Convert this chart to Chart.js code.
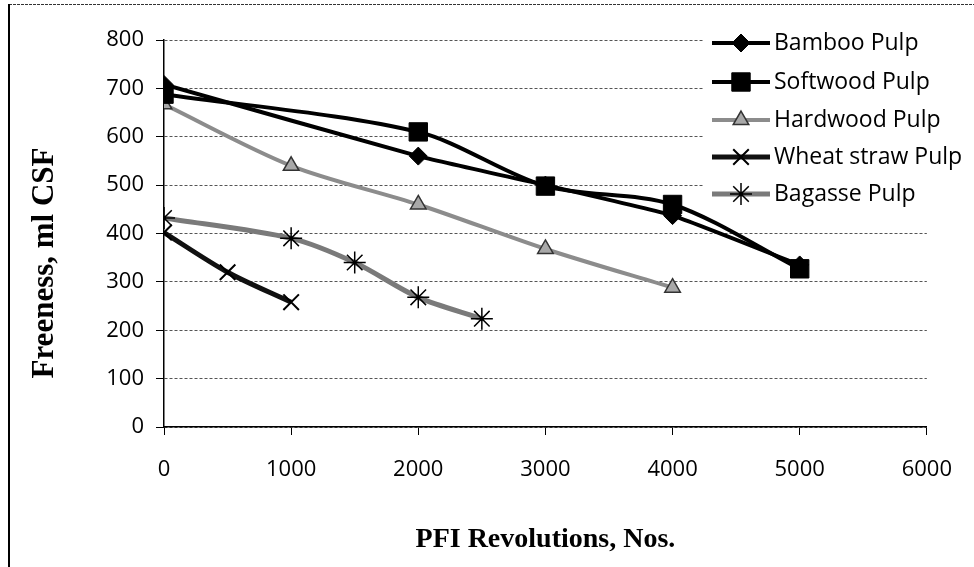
<!DOCTYPE html>
<html>
<head>
<meta charset="utf-8">
<script src="https://cdn.jsdelivr.net/npm/chart.js@4/dist/chart.umd.min.js"></script>
<style>
    html, body { margin: 0; padding: 0; background: #fff; }
    #wrap { width: 974px; height: 567px; }
</style>
</head>
<body>
<div id="wrap"><canvas id="freeness-chart" width="974" height="567"></canvas></div>
<script>
// PFI revolutions (x) and freeness in ml CSF (y)
const seriesNames = ['Bamboo Pulp', 'Softwood Pulp', 'Hardwood Pulp', 'Wheat straw Pulp', 'Bagasse Pulp'];

const bambooRevs = [0, 2000, 3000, 4000, 5000];
const bambooFreeness = [708, 560, 500, 437, 335];

const softwoodRevs = [0, 2000, 3000, 4000, 5000];
const softwoodFreeness = [688, 610, 498, 460, 327];

const hardwoodRevs = [0, 1000, 2000, 3000, 4000];
const hardwoodFreeness = [667, 540, 460, 368, 288];

const wheatRevs = [0, 500, 1000];
const wheatFreeness = [402, 320, 258];

const bagasseRevs = [0, 1000, 1500, 2000, 2500];
const bagasseFreeness = [432, 390, 340, 268, 224];

const yTicks = [0, 100, 200, 300, 400, 500, 600, 700, 800];
const xTicks = [0, 1000, 2000, 3000, 4000, 5000, 6000];

const xTitle = 'PFI Revolutions, Nos.';
const yTitle = 'Freeness, ml CSF';


function toPoints(xs, ys) {
    return xs.map((x, i) => ({ x: x, y: ys[i] }));
}


function makeDataset(label, xs, ys, look) {
    return Object.assign({
        label: label,
        data: toPoints(xs, ys),
        tension: 0.3,
        fill: false
    }, look);
}


const legendPlugin = {
    id: 'sideLegend',
    afterDraw(chart) {
        const ctx = chart.ctx;
        const rows = [43, 82, 120, 157, 194];
        ctx.save();
        // legend box is opaque in the original, it hides the gridlines behind it
        ctx.fillStyle = '#fff';
        ctx.fillRect(703, 22, 269, 190);
        chart.data.datasets.forEach((ds, i) => {
            const y = rows[i];
            ctx.strokeStyle = ds.borderColor;
            ctx.lineWidth = ds.borderWidth;
            ctx.beginPath();
            ctx.moveTo(712, y);
            ctx.lineTo(770, y);
            ctx.stroke();
            ctx.fillStyle = ds.pointBackgroundColor;
            ctx.strokeStyle = ds.pointBorderColor;
            ctx.lineWidth = ds.pointBorderWidth;
            Chart.helpers.drawPoint(ctx, {
                pointStyle: ds.pointStyle,
                radius: ds.pointRadius,
                rotation: 0,
                borderWidth: ds.pointBorderWidth
            }, 741, y);
            ctx.fillStyle = '#000';
            ctx.font = '23px "Open Sans", sans-serif';
            ctx.textBaseline = 'middle';
            ctx.textAlign = 'left';
            ctx.fillText(ds.label, 774, y);
        });
        ctx.restore();
    }
};


const framePlugin = {
    id: 'frame',
    beforeDraw(chart) {
        const ctx = chart.ctx;
        ctx.save();
        ctx.fillStyle = '#fff';
        ctx.fillRect(0, 0, chart.width, chart.height);
        ctx.strokeStyle = '#333';
        ctx.lineWidth = 1;
        ctx.setLineDash([3, 1]);
        ctx.beginPath();
        ctx.moveTo(9, 4.5);
        ctx.lineTo(974, 4.5);
        ctx.stroke();
        ctx.setLineDash([]);
        ctx.strokeStyle = '#000';
        ctx.lineWidth = 2;
        ctx.beginPath();
        ctx.moveTo(9, 4);
        ctx.lineTo(9, 567);
        ctx.stroke();
        ctx.restore();
    },
    afterDraw(chart) {
        // y title sits lower than the plot centre in the original
        const ctx = chart.ctx;
        ctx.save();
        ctx.translate(45, 263);
        ctx.rotate(-Math.PI / 2);
        ctx.fillStyle = '#000';
        ctx.font = 'bold 31px "Liberation Serif", "Times New Roman", serif';
        ctx.textAlign = 'center';
        ctx.textBaseline = 'middle';
        ctx.fillText(yTitle, 0, 0);
        ctx.restore();
    }
};


function initChart() {
    const ctx = document.getElementById('freeness-chart').getContext('2d');
    const tickFont = { family: '"Open Sans", sans-serif', size: 22 };
    return new Chart(ctx, {
        type: 'line',
        data: {
            datasets: [
                makeDataset(seriesNames[0], bambooRevs, bambooFreeness, {
                    borderColor: '#000', borderWidth: 4,
                    pointStyle: 'rectRot', pointRadius: 9,
                    pointBackgroundColor: '#000', pointBorderColor: '#000', pointBorderWidth: 1,
                    tension: 0.15
                }),
                makeDataset(seriesNames[1], softwoodRevs, softwoodFreeness, {
                    borderColor: '#000', borderWidth: 4,
                    pointStyle: 'rect', pointRadius: 13,
                    pointBackgroundColor: '#000', pointBorderColor: '#000', pointBorderWidth: 1
                }),
                makeDataset(seriesNames[2], hardwoodRevs, hardwoodFreeness, {
                    borderColor: '#8c8c8c', borderWidth: 4,
                    pointStyle: 'triangle', pointRadius: 9,
                    pointBackgroundColor: '#a8a8a8', pointBorderColor: '#333', pointBorderWidth: 1.5
                }),
                makeDataset(seriesNames[3], wheatRevs, wheatFreeness, {
                    borderColor: '#111', borderWidth: 5,
                    pointStyle: 'crossRot', pointRadius: 11,
                    pointBackgroundColor: '#000', pointBorderColor: '#000', pointBorderWidth: 2
                }),
                makeDataset(seriesNames[4], bagasseRevs, bagasseFreeness, {
                    borderColor: '#7a7a7a', borderWidth: 5,
                    pointStyle: 'star', pointRadius: 11,
                    pointBackgroundColor: '#000', pointBorderColor: '#000', pointBorderWidth: 1.5
                })
            ]
        },
        options: {
            responsive: false,
            animation: false,
            devicePixelRatio: 1,
            layout: {
                padding: { left: 10, top: 40, right: 47, bottom: 0 }
            },
            scales: {
                x: {
                    type: 'linear',
                    min: 0,
                    max: 6000,
                    afterBuildTicks: (scale) => {
                        scale.ticks = xTicks.map(v => ({ value: v }));
                    },
                    afterFit: (scale) => { scale.height = 140; },
                    grid: {
                        drawOnChartArea: false,
                        drawTicks: true,
                        tickLength: 8,
                        tickColor: '#000'
                    },
                    border: { color: '#000', width: 1.5 },
                    ticks: {
                        font: tickFont,
                        color: '#000',
                        padding: 22,
                        maxRotation: 0,
                        callback: (value) => String(value)
                    },
                    title: {
                        display: true,
                        text: xTitle,
                        color: '#000',
                        font: { family: '"Liberation Serif", "Times New Roman", serif', size: 28, weight: 'bold' },
                        padding: { top: 0, bottom: 10 }
                    }
                },
                y: {
                    min: 0,
                    max: 800,
                    afterBuildTicks: (scale) => {
                        scale.ticks = yTicks.map(v => ({ value: v }));
                    },
                    afterFit: (scale) => { scale.width = 154; },
                    grid: {
                        color: '#555',
                        lineWidth: 1,
                        tickLength: 8,
                        tickColor: '#000',
                        tickBorderDash: []
                    },
                    border: { color: '#000', width: 1.5, dash: [3, 2] },
                    ticks: {
                        font: tickFont,
                        color: '#000',
                        padding: 12,
                        callback: (value) => String(value)
                    }
                }
            },
            plugins: {
                legend: { display: false },
                tooltip: { enabled: false }
            }
        },
        plugins: [framePlugin, legendPlugin]
    });
}


document.addEventListener('DOMContentLoaded', function() {
    initChart();
});
</script>
</body>
</html>
